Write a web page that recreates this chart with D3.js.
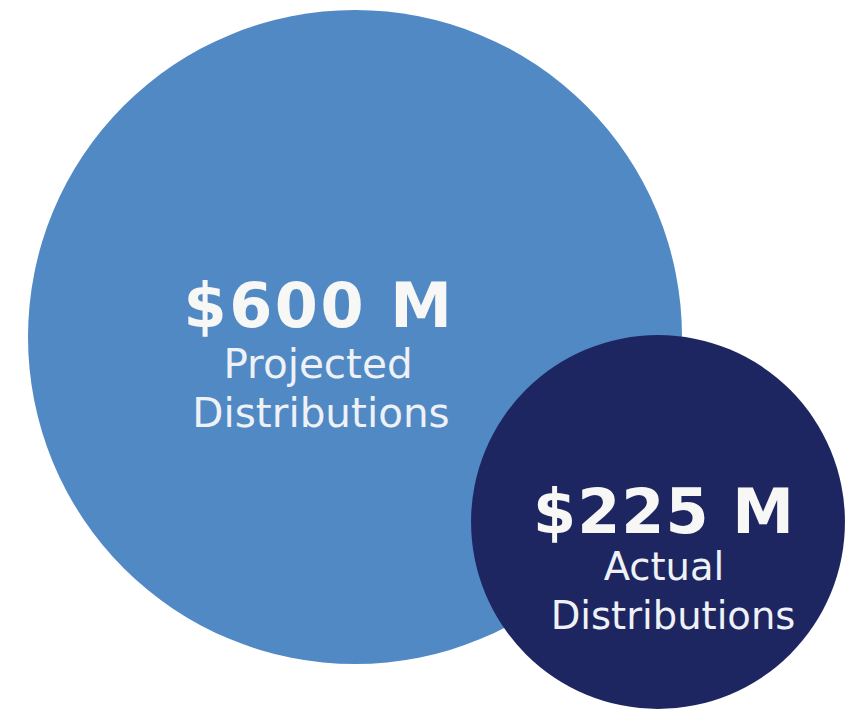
<!DOCTYPE html>
<html>
<head>
<meta charset="utf-8">
<script src="https://cdn.jsdelivr.net/npm/d3@7"></script>
<style>
  html, body { margin: 0; padding: 0; background: #ffffff; }
</style>
</head>
<body>
<div id="chart"></div>
<script>
// data
const names = ["Projected Distributions", "Actual Distributions"];
const values = [600, 225];
const valueLabels = ["$600 M", "$225 M"];
const subLabels = [["Projected", "Distributions"], ["Actual", "Distributions"]];

const width = 860, height = 711;

// layout of the two bubbles (centre positions and text offsets)
const centers = [{x: 355, y: 337, dx: -37}, {x: 658, y: 522, dx: 6}];
const colors = ["#5189c5", "#1e2661"];

const data = names.map((n, i) => ({
    name: n, value: values[i], label: valueLabels[i], sub: subLabels[i],
    cx: centers[i].x, cy: centers[i].y, dx: centers[i].dx, color: colors[i]
}));

// radius scale
const rScale = d3.scalePow().exponent(0.57)
    .domain([0, d3.max(values)])
    .range([0, 327]);

const svg = d3.select("#chart")
    .append("svg")
        .attr("width", width)
        .attr("height", height);

const bubbles = svg.selectAll("g.bubble")
    .data(data)
    .join("g")
        .attr("class", "bubble")
        .attr("transform", d => "translate(" + d.cx + "," + d.cy + ")");

bubbles.append("circle")
    .attr("r", d => rScale(d.value))
    .attr("fill", d => d.color);

// big value text
bubbles.append("text")
    .attr("x", (d, i) => d.dx + (i === 0 ? 1 : 0))
    .attr("y", (d, i) => i === 0 ? -10 : 11)
    .attr("text-anchor", "middle")
    .attr("font-family", "'DejaVu Sans', sans-serif")
    .attr("font-weight", "bold")
    .attr("font-size", "62px")
    .attr("letter-spacing", (d, i) => i === 0 ? "2.5px" : "1px")
    .attr("fill", "#f7f7f5")
    .text(d => d.label);

// sub labels, two lines
bubbles.each(function(d, i) {
    const g = d3.select(this);
    d.sub.forEach((line, j) => {
        g.append("text")
            .attr("x", d.dx + (i === 1 && j === 1 ? 9 : 0) + (i === 0 && j === 1 ? 3 : 0))
            .attr("y", (i === 0 ? 41 : 58) + j * 49)
            .attr("text-anchor", "middle")
            .attr("font-family", "'DejaVu Sans', sans-serif")
            .attr("font-size", i === 0 ? "40.5px" : "38.5px")
            .attr("fill", "#eef1f5")
            .text(line);
    });
});
</script>
</body>
</html>
